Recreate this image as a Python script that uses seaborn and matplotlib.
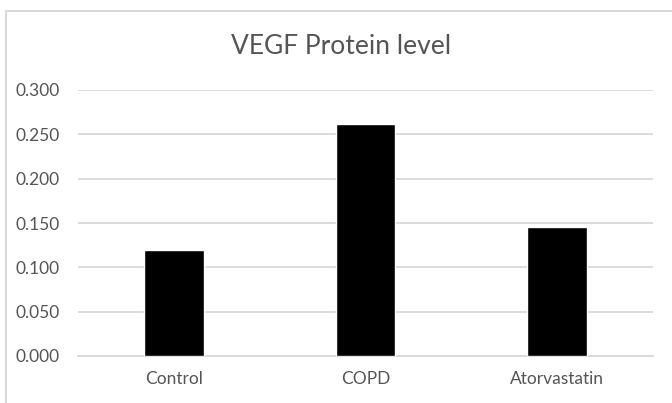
import matplotlib
matplotlib.use("Agg")
import matplotlib.pyplot as plt
import seaborn as sns
import pandas as pd
from matplotlib.patches import Rectangle

# data
groups = ['Control', 'COPD', 'Atorvastatin']
vegf = [0.120, 0.262, 0.145]
yticks = [0.0, 0.05, 0.10, 0.15, 0.20, 0.25, 0.30]

df = pd.DataFrame({'Group': groups, 'VEGF': vegf})

sns.set_style('white')
plt.rcParams['font.family'] = ['Lato', 'DejaVu Sans']

fig = plt.figure(figsize=(6.72, 4.03), dpi=100)
ax = fig.add_axes([78/672, 1-356/403, (653-78)/672, (356-90)/403])

sns.barplot(data=df, x='Group', y='VEGF', order=groups, color='black',
            width=0.313, saturation=1, ax=ax, zorder=3)

grid_c = '#d9d9d9'
text_c = '#555555'

ax.set_ylim(0, 0.3)
ax.set_xlim(-0.5, 2.5)
ax.set_yticks(yticks)
ax.set_yticklabels([f'{v:.3f}' for v in yticks])
ax.yaxis.grid(True, color=grid_c, linewidth=1.3, zorder=0)
ax.set_axisbelow(True)
for s in ['top', 'right', 'left']:
    ax.spines[s].set_visible(False)
ax.spines['bottom'].set_color(grid_c)
ax.spines['bottom'].set_linewidth(1.3)

ax.set_xticks([-0.5, 0.5, 1.5, 2.5], minor=True)
ax.tick_params(axis='x', which='major', length=0, pad=11, labelsize=12.5, labelcolor=text_c)
ax.tick_params(axis='x', which='minor', length=5, width=1.3, color=grid_c)
ax.tick_params(axis='y', length=0, pad=13, labelsize=12.5, labelcolor=text_c)
ax.set_xlabel('')
ax.set_ylabel('')

fig.text(341/672, 1-47/403, 'VEGF Protein level', ha='center', va='center',
         fontsize=19, color=text_c)

# chart area border (Excel style), partly cut off at right and bottom
fig.add_artist(Rectangle((6/672, -0.1), 1.2, 1.1 - 11/403, transform=fig.transFigure,
                         fill=False, edgecolor=grid_c, linewidth=1.5))

fig.savefig('out.png', dpi=100)
